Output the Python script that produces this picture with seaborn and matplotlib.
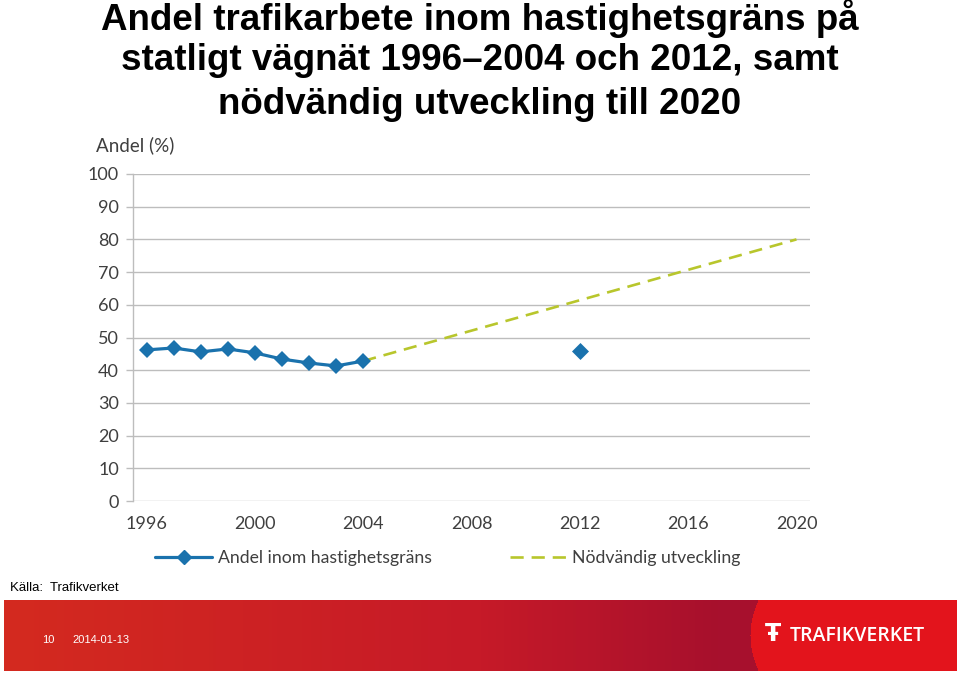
import numpy as np
import pandas as pd
import matplotlib
matplotlib.use("Agg")
import matplotlib.pyplot as plt
import seaborn as sns
from matplotlib.lines import Line2D

# Data
years = [1996, 1997, 1998, 1999, 2000, 2001, 2002, 2003, 2004]
andel = [46.2, 46.8, 45.6, 46.5, 45.3, 43.4, 42.2, 41.3, 42.8]
year_2012 = [2012]
andel_2012 = [45.9]
target_years = [2004, 2020]
target_values = [42.8, 80.0]

x_ticks = [1996, 2000, 2004, 2008, 2012, 2016, 2020]
y_ticks = [0, 10, 20, 30, 40, 50, 60, 70, 80, 90, 100]

blue = "#1a72ad"
green = "#b8c62c"
tick_color = "#3f3f3f"

sns.set_theme(style="white")
plt.rcParams["font.family"] = ["Lato", "DejaVu Sans"]

fig = plt.figure(figsize=(9.6, 6.73), dpi=100)
fig.patch.set_facecolor("white")

ax = fig.add_axes([133 / 960, 1 - 501 / 673, (810 - 133) / 960, (501 - 174) / 673])

df_obs = pd.DataFrame({"year": years, "andel": andel})
df_2012 = pd.DataFrame({"year": year_2012, "andel": andel_2012})
df_target = pd.DataFrame({"year": target_years, "andel": target_values})

sns.lineplot(data=df_target, x="year", y="andel", ax=ax, color=green,
             linewidth=1.9, dashes=False, zorder=2)
ax.lines[-1].set_dashes([5, 3])
sns.lineplot(data=df_obs, x="year", y="andel", ax=ax, color=blue,
             linewidth=2.3, marker="D", markersize=8.5, markeredgewidth=0,
             zorder=3)
sns.scatterplot(data=df_2012, x="year", y="andel", ax=ax, color=blue,
                marker="D", s=75, linewidth=0, zorder=3)

ax.set_xlim(1995.5, 2020.5)
ax.set_ylim(0, 100)
ax.set_xticks(x_ticks)
ax.set_yticks(y_ticks)
ax.set_xlabel("")
ax.set_ylabel("")
ax.grid(axis="y", color="#bdbdbd", linewidth=1.0)
ax.set_axisbelow(True)
for s in ["top", "right", "bottom"]:
    ax.spines[s].set_visible(False)
ax.spines["left"].set_color("#bdbdbd")
ax.spines["left"].set_linewidth(1.0)
ax.tick_params(axis="y", length=5, width=1.0, color="#bdbdbd", pad=5,
               labelsize=13, labelcolor=tick_color, left=True)
ax.tick_params(axis="x", length=0, pad=11, labelsize=13, labelcolor=tick_color)

fig.text(96 / 960, 1 - 145 / 673, "Andel (%)", fontsize=13.5, color=tick_color,
         ha="left", va="center")

# legend
handles = [
    Line2D([], [], color=blue, linewidth=2.3, marker="D", markersize=7),
    Line2D([], [], color=green, linewidth=1.9, dashes=[5, 3]),
]
fig.legend(handles, ["Andel inom hastighetsgräns", "Nödvändig utveckling"],
           loc="center", bbox_to_anchor=(448 / 960, 1 - 558 / 673), ncol=2,
           frameon=False, fontsize=12.7, handlelength=3.2, columnspacing=4.4,
           handletextpad=0.35, labelcolor=tick_color)

# title
title_lines = ["Andel trafikarbete inom hastighetsgräns på",
               "statligt vägnät 1996–2004 och 2012, samt",
               "nödvändig utveckling till 2020"]
for i, line in enumerate(title_lines):
    fig.text(0.5, 1 - (18 + 43 * i) / 673, line, ha="center", va="center",
             fontsize=26.5, fontweight="bold", family="Liberation Sans",
             color="black")

fig.text(10 / 960, 1 - 588 / 673, "Källa:  Trafikverket", fontsize=9.5,
         family="Liberation Sans", ha="left", va="center", color="black")

# footer band
fax = fig.add_axes([4 / 960, 1 - 671 / 673, (957 - 4) / 960, (671 - 600) / 673])
w, h = 953, 71
xs = np.linspace(0, 1, w)
c_left = np.array([0xd4, 0x2a, 0x1f]) / 255
c_mid = np.array([0xc6, 0x1a, 0x28]) / 255
c_dark = np.array([0xa7, 0x10, 0x2d]) / 255
c_bright = np.array([0xe3, 0x14, 0x1c]) / 255
img = np.zeros((h, w, 3))
for j, xv in enumerate(xs):
    if xv < 0.5:
        c = c_left + (c_mid - c_left) * (xv / 0.5)
    else:
        c = c_mid + (c_dark - c_mid) * min((xv - 0.5) / 0.25, 1)
    img[:, j] = c
yy = np.linspace(-1, 1, h)
edge = 750 - 4 + 8 * yy ** 2
cols = np.arange(w)
mask = cols[None, :] >= edge[:, None]
img[mask] = c_bright
fax.imshow(img, aspect="auto", extent=(0, w, h, 0))
fax.set_axis_off()

fig.text(42 / 960, 1 - 640 / 673, "10", color="white", fontsize=8,
         family="Liberation Sans", ha="left", va="center")
fig.text(72 / 960, 1 - 640 / 673, "2014-01-13", color="white", fontsize=8,
         family="Liberation Sans", ha="left", va="center")
fig.text(790 / 960, 1 - 636 / 673, "TRAFIKVERKET", color="white", fontsize=14,
         family="Open Sans", fontweight="semibold", ha="left", va="center")
fig.text(773 / 960, 1 - 634 / 673, "Ŧ", color="white", fontsize=17,
         family="DejaVu Sans", fontweight="bold", ha="center", va="center")

fig.savefig("out.png", dpi=100)
